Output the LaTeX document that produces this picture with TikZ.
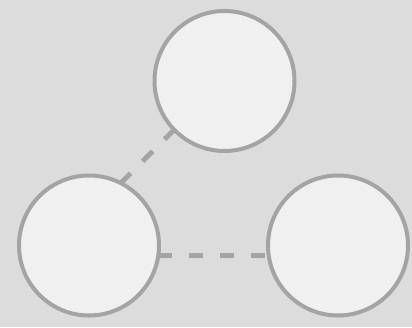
\documentclass[tikz,border=0pt]{standalone}
\usetikzlibrary{backgrounds}
\definecolor{bg}{HTML}{DCDCDC}
\definecolor{fillc}{HTML}{F0F0F0}
\definecolor{edge}{HTML}{A4A4A4}
\begin{document}
\begin{tikzpicture}[x=1pt,y=-1pt,
  ball/.style={circle,draw=edge,fill=fillc,line width=4pt,minimum size=140pt,inner sep=0pt,outer sep=0pt},
  link/.style={draw=edge,line width=5pt,dash pattern=on 14pt off 17pt}]
\useasboundingbox (0,0) rectangle (412,327);
\node[ball] (top) at (224.5,81) {};
\node[ball] (left) at (89,245.5) {};
\node[ball] (right) at (338,245.5) {};
\begin{pgfonlayer}{background}
\fill[bg] (0,0) rectangle (412,327);
\draw[link] (left.63) -- (top.224);
\draw[link] (left.-8) -- (right.188);
\end{pgfonlayer}
\end{tikzpicture}
\end{document}
